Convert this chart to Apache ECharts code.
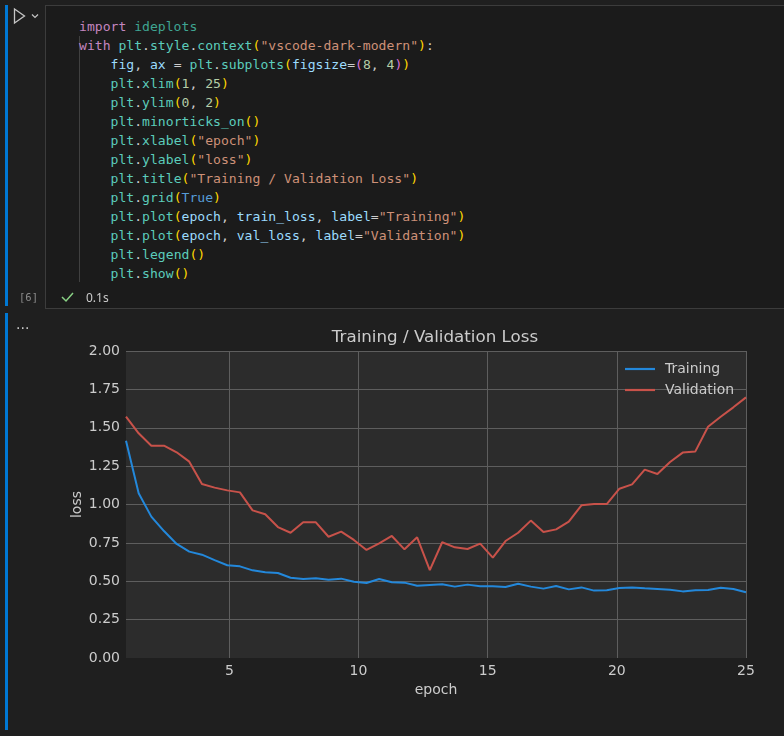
<!DOCTYPE html>
<html>
<head>
<meta charset="utf-8">
<script src="https://cdn.jsdelivr.net/npm/echarts@6/dist/echarts.min.js"></script>
<style>
  html, body { margin:0; padding:0; background:#1f1f1f; width:784px; height:736px; overflow:hidden; }
  #chart { position:absolute; left:0; top:0; width:784px; height:736px; }
  .chrome { position:absolute; pointer-events:none; }
  .bar { background:#0078d4; width:3px; left:5px; }
  #cell { left:45px; top:5px; width:760px; height:302px; background:#1b1b1b; border:1px solid #3c3c3c; }
  #code { left:79px; top:17px; font-family:"DejaVu Sans Mono", "Liberation Mono", monospace; font-size:13.1px; line-height:19px; color:#cccccc; white-space:pre; }
  #guide { left:79px; top:36px; width:1px; height:246px; background:#404040; }
  .k { color:#c586c0; } .m { color:#3fa592; } .f { color:#5ccdbc; } .v { color:#9cdcfe; }
  .s { color:#ce9178; } .n { color:#b5cea8; } .b1 { color:#ffd700; } .b2 { color:#da70d6; } .c { color:#569cd6; }
</style>
</head>
<body>
<div id="chart"></div>
<div class="chrome bar" style="top:5px;height:301px;"></div>
<div class="chrome bar" style="top:313px;height:417px;"></div>
<div class="chrome" id="cell"></div>
<div class="chrome" id="guide"></div>
<svg class="chrome" style="left:0;top:0" width="60" height="40">
  <path d="M14.5 9 L24.5 16 L14.5 23 Z" fill="none" stroke="#c5c5c5" stroke-width="1.3"/>
  <path d="M32 14.5 L35 17.5 L38 14.5" fill="none" stroke="#c5c5c5" stroke-width="1.2"/>
</svg>
<div class="chrome" id="code"><span class="k">import</span> <span class="m">ideplots</span>
<span class="k">with</span> <span class="f">plt</span>.<span class="f">style</span>.<span class="f">context</span><span class="b1">(</span><span class="s">"vscode-dark-modern"</span><span class="b1">)</span>:
    <span class="v">fig</span>, <span class="v">ax</span> = <span class="f">plt</span>.<span class="f">subplots</span><span class="b1">(</span><span class="v">figsize</span>=<span class="b2">(</span><span class="n">8</span>, <span class="n">4</span><span class="b2">)</span><span class="b1">)</span>
    <span class="f">plt</span>.<span class="f">xlim</span><span class="b1">(</span><span class="n">1</span>, <span class="n">25</span><span class="b1">)</span>
    <span class="f">plt</span>.<span class="f">ylim</span><span class="b1">(</span><span class="n">0</span>, <span class="n">2</span><span class="b1">)</span>
    <span class="f">plt</span>.<span class="f">minorticks_on</span><span class="b1">()</span>
    <span class="f">plt</span>.<span class="f">xlabel</span><span class="b1">(</span><span class="s">"epoch"</span><span class="b1">)</span>
    <span class="f">plt</span>.<span class="f">ylabel</span><span class="b1">(</span><span class="s">"loss"</span><span class="b1">)</span>
    <span class="f">plt</span>.<span class="f">title</span><span class="b1">(</span><span class="s">"Training / Validation Loss"</span><span class="b1">)</span>
    <span class="f">plt</span>.<span class="f">grid</span><span class="b1">(</span><span class="c">True</span><span class="b1">)</span>
    <span class="f">plt</span>.<span class="f">plot</span><span class="b1">(</span><span class="v">epoch</span>, <span class="v">train_loss</span>, <span class="v">label</span>=<span class="s">"Training"</span><span class="b1">)</span>
    <span class="f">plt</span>.<span class="f">plot</span><span class="b1">(</span><span class="v">epoch</span>, <span class="v">val_loss</span>, <span class="v">label</span>=<span class="s">"Validation"</span><span class="b1">)</span>
    <span class="f">plt</span>.<span class="f">legend</span><span class="b1">()</span>
    <span class="f">plt</span>.<span class="f">show</span><span class="b1">()</span></div>
<div class="chrome" style="left:19px;top:290px;font-family:'DejaVu Sans Mono',monospace;font-size:10.5px;line-height:14px;color:#8b8b8b;">[6]</div>
<svg class="chrome" style="left:58px;top:288px" width="20" height="18">
  <path d="M4 9 L8 13 L15 5" fill="none" stroke="#89d185" stroke-width="1.5"/>
</svg>
<div class="chrome" style="left:86px;top:290px;font-family:'Noto Sans',sans-serif;font-size:12px;line-height:16px;color:#cccccc;">0.1s</div>
<div class="chrome" style="left:16px;top:316px;font-family:'DejaVu Sans',sans-serif;font-size:14px;line-height:16px;color:#cccccc;">...</div>

<script>
// ---- data ----
const epoch = [1.00, 1.49, 1.98, 2.47, 2.96, 3.45, 3.94, 4.43, 4.92, 5.41,
  5.90, 6.39, 6.88, 7.37, 7.86, 8.35, 8.84, 9.33, 9.82, 10.31,
  10.80, 11.29, 11.78, 12.27, 12.76, 13.24, 13.73, 14.22, 14.71, 15.20,
  15.69, 16.18, 16.67, 17.16, 17.65, 18.14, 18.63, 19.12, 19.61, 20.10,
  20.59, 21.08, 21.57, 22.06, 22.55, 23.04, 23.53, 24.02, 24.51, 25.00];
const trainLoss = [1.416, 1.073, 0.921, 0.827, 0.743, 0.693, 0.673, 0.638, 0.604, 0.597,
  0.571, 0.558, 0.554, 0.523, 0.515, 0.519, 0.510, 0.517, 0.497, 0.489,
  0.515, 0.493, 0.491, 0.471, 0.476, 0.480, 0.465, 0.478, 0.467, 0.467,
  0.463, 0.484, 0.465, 0.452, 0.469, 0.447, 0.460, 0.439, 0.441, 0.456,
  0.460, 0.454, 0.450, 0.445, 0.434, 0.441, 0.443, 0.458, 0.450, 0.428];
const valLoss = [1.572, 1.464, 1.383, 1.383, 1.340, 1.279, 1.134, 1.110, 1.092, 1.079,
  0.962, 0.936, 0.853, 0.816, 0.884, 0.884, 0.790, 0.823, 0.769, 0.704,
  0.747, 0.795, 0.708, 0.786, 0.573, 0.754, 0.721, 0.710, 0.745, 0.654,
  0.762, 0.816, 0.895, 0.821, 0.838, 0.888, 0.995, 1.003, 1.003, 1.103,
  1.131, 1.227, 1.199, 1.277, 1.338, 1.346, 1.507, 1.572, 1.633, 1.698];
const xTicks = [5, 10, 15, 20, 25];
const seriesNames = ['Training', 'Validation'];
const titleText = 'Training / Validation Loss';
const xName = 'epoch';
const yName = 'loss';

const chart = echarts.init(document.getElementById('chart'), null, { renderer: 'canvas' });
const font = 'DejaVu Sans';
const txt = '#cccccc';
const gridCol = '#5e5e5e';

chart.setOption({
  backgroundColor: 'transparent',
  animation: false,
  title: {
    text: titleText, left: 430, top: 324, textAlign: 'center',
    textStyle: { fontFamily: font, fontSize: 16.7, fontWeight: 'normal', color: txt }
  },
  legend: {
    orient: 'vertical', left: 620, top: 357, icon: 'rect', itemWidth: 30, itemHeight: 2.2,
    itemGap: 7,
    textStyle: { fontFamily: font, fontSize: 14, color: txt, lineHeight: 14, padding: [0, 0, 0, 5] },
    data: seriesNames
  },
  grid: {
    left: 126, top: 351, width: 620, height: 307, show: true,
    backgroundColor: '#2c2c2c', borderWidth: 0
  },
  xAxis: {
    type: 'value', min: 1, max: 25,
    name: xName, nameLocation: 'middle', nameGap: 25, nameMoveOverlap: false,
    nameTextStyle: { fontFamily: font, fontSize: 14, color: txt },
    axisLine: { show: false }, axisTick: { show: false, customValues: xTicks },
    axisLabel: { customValues: xTicks, fontFamily: font, fontSize: 14, color: txt, margin: 6 },
    splitLine: { show: true, lineStyle: { color: gridCol, width: 1 } }
  },
  yAxis: {
    type: 'value', min: 0, max: 2, interval: 0.25,
    name: yName, nameLocation: 'middle', nameGap: 42, nameMoveOverlap: false,
    nameTextStyle: { fontFamily: font, fontSize: 14, color: txt },
    axisLine: { show: false }, axisTick: { show: false },
    axisLabel: { fontFamily: font, fontSize: 14, color: txt, margin: 6,
      formatter: v => v.toFixed(2) },
    splitLine: { show: true, showMinLine: false, lineStyle: { color: gridCol, width: 1 } }
  },
  series: [
    { name: seriesNames[0], type: 'line', showSymbol: false, symbol: 'none',
      data: epoch.map((e, i) => [e, trainLoss[i]]),
      lineStyle: { color: '#2388db', width: 2 }, itemStyle: { color: '#2388db' } },
    { name: seriesNames[1], type: 'line', showSymbol: false, symbol: 'none',
      data: epoch.map((e, i) => [e, valLoss[i]]),
      lineStyle: { color: '#c8524a', width: 2 }, itemStyle: { color: '#c8524a' } }
  ]
});
</script>
</body>
</html>
